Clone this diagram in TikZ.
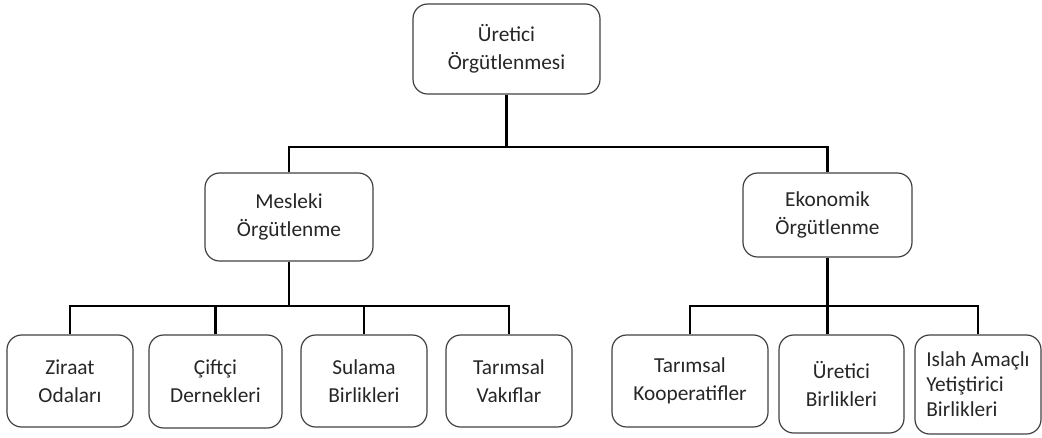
\documentclass[tikz,border=0pt]{standalone}
\usepackage{fontspec}
\setmainfont{Carlito}
\usepackage{xcolor}
\usepackage{tikz}

\begin{document}
\begin{tikzpicture}[x=0.75pt, y=-0.75pt, every node/.style={draw=black!75, line width=0.9pt, rounded corners=11pt, align=center, inner sep=0pt, text=black!85, font=\fontsize{16}{21}\selectfont},%
        box/.style 2 args={minimum width=#1*0.75pt, minimum height=#2*0.75pt}, conn/.style={line width=2.2pt, black}]
    \useasboundingbox (0,0) rectangle (1042,437);
    % boxes
    \node[box={187}{90}] (top) at (506.5,49) {Üretici\\Örgütlenmesi};
    \node[box={168}{88}] (mes) at (289,217) {Mesleki\\Örgütlenme};
    \node[box={169}{84}] (eko) at (827.5,215) {Ekonomik\\Örgütlenme};
    \node[box={126}{92}] (ziraat) at (70,381) {Ziraat\\Odaları};
    \node[box={133}{93}] (ciftci) at (215.5,381.5) {Çiftçi\\Dernekleri};
    \node[box={126}{92}] (sulama) at (364,381) {Sulama\\Birlikleri};
    \node[box={126}{92}] (vakif) at (509,381) {Tarımsal\\Vakıflar};
    \node[box={156}{92}] (koop) at (690,381) {Tarımsal\\Kooperatifler};
    \node[box={125}{98}] (uretb) at (841.5,384) {Üretici\\Birlikleri};
    \node[box={126}{99}, align=left, font=\fontsize{16}{18.75}\selectfont] (islah) at (978,384.5) {Islah Amaçlı\\Yetiştirici\\Birlikleri};
    % connectors
    \coordinate (barA) at (506.5,147);
    \coordinate (barB) at (289,306);
    \coordinate (barC) at (827.5,306);
    \draw[conn] (top.south) -- (barA);
    \draw[conn] (mes.north) |- (barA) -| (eko.north);
    \draw[conn] (mes.south) -- (barB);
    \draw[conn] (ziraat.north) |- (barB) -| (vakif.north);
    \draw[conn] (ciftci.north) -- (ciftci.north |- barB);
    \draw[conn] (sulama.north) -- (sulama.north |- barB);
    \draw[conn] (eko.south) -- (eko.south |- uretb.north);
    \draw[conn] (koop.north) |- (barC) -| (islah.north);
\end{tikzpicture}
\end{document}
